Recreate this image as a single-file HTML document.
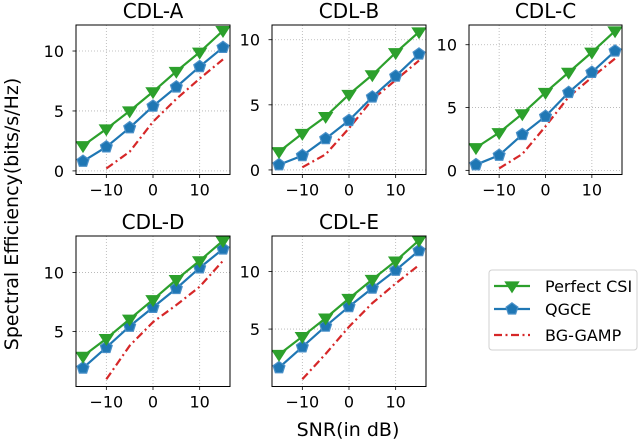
<!DOCTYPE html>
<html><head><meta charset="utf-8"><style>
html,body{margin:0;padding:0;background:#fff;}
svg{display:block;font-family:"DejaVu Sans","Liberation Sans",sans-serif;}
</style></head><body>
<svg id="fig" width="640" height="441" viewBox="0 0 640 441" xmlns="http://www.w3.org/2000/svg"></svg>
<script>
// ---- data ----
const snr = [-15, -10, -5, 0, 5, 10, 15];
const bgSnr = [-10, -5, 0, 5, 10, 15];
const panelTitles = ["CDL-A", "CDL-B", "CDL-C", "CDL-D", "CDL-E"];
const perfectA = [2.1, 3.5, 5.0, 6.6, 8.3, 9.9, 11.7];
const qgceA = [0.8, 2.0, 3.6, 5.4, 7.0, 8.7, 10.3];
const bgA = [0.2, 1.6, 4.1, 6.0, 7.7, 9.3];
const perfectB = [1.4, 2.8, 4.1, 5.8, 7.3, 9.0, 10.6];
const qgceB = [0.4, 1.1, 2.4, 3.8, 5.6, 7.2, 8.9];
const bgB = [0.2, 1.2, 3.2, 5.4, 6.9, 8.4];
const perfectC = [1.8, 3.0, 4.5, 6.2, 7.8, 9.4, 11.1];
const qgceC = [0.45, 1.2, 2.85, 4.3, 6.2, 7.8, 9.5];
const bgC = [0.15, 1.3, 3.5, 5.85, 7.4, 8.9];
const perfectD = [2.9, 4.4, 6.05, 7.7, 9.4, 11.0, 12.7];
const qgceD = [1.9, 3.65, 5.45, 7.05, 8.65, 10.4, 12.0];
const bgD = [0.95, 3.8, 5.8, 7.25, 8.8, 11.0];
const perfectE = [2.8, 4.35, 5.95, 7.65, 9.3, 10.9, 12.7];
const qgceE = [1.65, 3.45, 5.25, 6.95, 8.55, 10.1, 11.8];
const bgE = [0.65, 2.85, 5.2, 7.25, 8.95, 10.55];
const xTicks = [-10, 0, 10];
const yTicksTop = [0, 5, 10];
const yTicksBottom = [5, 10];
const legendLabels = ["Perfect CSI", "QGCE", "BG-GAMP"];

const NS = "http://www.w3.org/2000/svg";
const svg = document.getElementById("fig");
function mk(tag, attrs, parent) {
  const e = document.createElementNS(NS, tag);
  for (const k in attrs) e.setAttribute(k, attrs[k]);
  (parent || svg).appendChild(e);
  return e;
}
const GREEN = "#2ca02c", BLUE = "#1f77b4", RED = "#d62728";

const layout = [
  {x0:76, x1:230, y0:25, y1:174.5, ylim:[-0.3,12.17], yt:yTicksTop, p:perfectA, q:qgceA, b:bgA},
  {x0:272, x1:426, y0:25, y1:174.5, ylim:[-0.35,11.13], yt:yTicksTop, p:perfectB, q:qgceB, b:bgB},
  {x0:469, x1:622, y0:25, y1:174.5, ylim:[-0.33,11.57], yt:yTicksTop, p:perfectC, q:qgceC, b:bgC},
  {x0:76, x1:230, y0:236, y1:386.5, ylim:[0.34,13.1], yt:yTicksBottom, p:perfectD, q:qgceD, b:bgD},
  {x0:272, x1:426, y0:236, y1:386.5, ylim:[0.02,13.07], yt:yTicksBottom, p:perfectE, q:qgceE, b:bgE}
];

function triDown(g, cx, cy, name) {
  const r = 6.8;
  const t = mk("polygon", {points:`${cx-r},${cy-r*0.6} ${cx+r},${cy-r*0.6} ${cx},${cy+r*0.95}`, fill:GREEN, stroke:GREEN, "stroke-width":1}, g);
  
  
}
function penta(g, cx, cy, name) {
  const r = 6.2; let pts = [];
  for (let i = 0; i < 5; i++) { const a = -Math.PI/2 + i*2*Math.PI/5; pts.push((cx + r*Math.cos(a)).toFixed(2) + "," + (cy + r*Math.sin(a)).toFixed(2)); }
  const p = mk("polygon", {points:pts.join(" "), fill:BLUE, stroke:"#4a90c8", "stroke-width":1.2}, g);
  
  
}

layout.forEach((L, i) => {
  const g = mk("g", {});
  
  
  const xs = v => L.x0 + (v + 16.5) / 33 * (L.x1 - L.x0);
  const ys = v => L.y1 - (v - L.ylim[0]) / (L.ylim[1] - L.ylim[0]) * (L.y1 - L.y0);
  xTicks.forEach(t => {
    const gl = mk("line", {x1:xs(t), x2:xs(t), y1:L.y0, y2:L.y1, stroke:"#b0b0b0", "stroke-width":0.8, "stroke-dasharray":"1,2"}, g);
    
    
    const tk = mk("line", {x1:xs(t), x2:xs(t), y1:L.y1, y2:L.y1+3.5, stroke:"#000", "stroke-width":0.8}, g);
    
    
    const tl = mk("text", {x:xs(t), y:L.y1+21, "text-anchor":"middle", "font-size":16, fill:"#000"}, g);
    tl.textContent = t < 0 ? "\u2212" + Math.abs(t) : String(t);
    
    
  });
  L.yt.forEach(t => {
    const gl = mk("line", {x1:L.x0, x2:L.x1, y1:ys(t), y2:ys(t), stroke:"#b0b0b0", "stroke-width":0.8, "stroke-dasharray":"1,2"}, g);
    
    
    const tk = mk("line", {x1:L.x0-3.5, x2:L.x0, y1:ys(t), y2:ys(t), stroke:"#000", "stroke-width":0.8}, g);
    
    
    const tl = mk("text", {x:L.x0-12, y:ys(t)+6, "text-anchor":"end", "font-size":16, fill:"#000"}, g);
    tl.textContent = String(t);
    
    
  });
  const cp = mk("clipPath", {id:"clip" + i}, g);
  mk("rect", {x:L.x0, y:L.y0-8, width:L.x1-L.x0+8, height:L.y1-L.y0+8}, cp);
  const dg = mk("g", {"clip-path":"url(#clip" + i + ")"}, g);
  const bl = mk("polyline", {points:bgSnr.map((s,k)=>xs(s)+","+ys(L.b[k])).join(" "), fill:"none", stroke:RED, "stroke-width":2.2, "stroke-dasharray":"8,3.5,2,3.5"}, dg);
  
  
  const ql = mk("polyline", {points:snr.map((s,k)=>xs(s)+","+ys(L.q[k])).join(" "), fill:"none", stroke:BLUE, "stroke-width":2.2}, dg);
  
  
  snr.forEach((s,k)=>penta(dg, xs(s), ys(L.q[k]), 'qgce-marker'));
  const pl = mk("polyline", {points:snr.map((s,k)=>xs(s)+","+ys(L.p[k])).join(" "), fill:"none", stroke:GREEN, "stroke-width":2.2}, dg);
  
  
  snr.forEach((s,k)=>triDown(dg, xs(s), ys(L.p[k]), 'perfect-csi-marker'));
  const fr = mk("rect", {x:L.x0, y:L.y0, width:L.x1-L.x0, height:L.y1-L.y0, fill:"none", stroke:"#000", "stroke-width":1}, g);
  
  
  const ti = mk("text", {x:(L.x0+L.x1)/2, y:L.y0-7, "text-anchor":"middle", "font-size":20, fill:"#000"}, g);
  ti.textContent = panelTitles[i];
  
  
});

const xl = mk("text", {x:348, y:436, "text-anchor":"middle", "font-size":19, fill:"#000"});
xl.textContent = "SNR(in dB)";


const yl = mk("text", {x:0, y:0, "text-anchor":"middle", "font-size":19, fill:"#000", transform:"translate(18,214) rotate(-90)"});
yl.textContent = "Spectral Efficiency(bits/s/Hz)";



const lg = mk("g", {});


const lb = mk("rect", {x:489, y:270, width:148, height:80, rx:3, fill:"#fff", stroke:"#d0d0d0", "stroke-width":1}, lg);


const legY = [286, 309, 335];
const legCol = [GREEN, BLUE, RED];
legendLabels.forEach((lab, k) => {
  const eg = mk("g", {}, lg);
  
  
  const ln = mk("line", {x1:494, x2:530, y1:legY[k], y2:legY[k], stroke:legCol[k], "stroke-width":2.2, "stroke-dasharray":k==2?"8,3.5,2,3.5":"none"}, eg);
  
  
  if (k === 0) triDown(eg, 512, legY[k], 'legend-marker');
  if (k === 1) penta(eg, 512, legY[k], 'legend-marker');
  const t = mk("text", {x:545, y:legY[k]+6, "font-size":16, fill:"#000"}, eg);
  t.textContent = lab;
  
  
});
</script>
</body></html>
